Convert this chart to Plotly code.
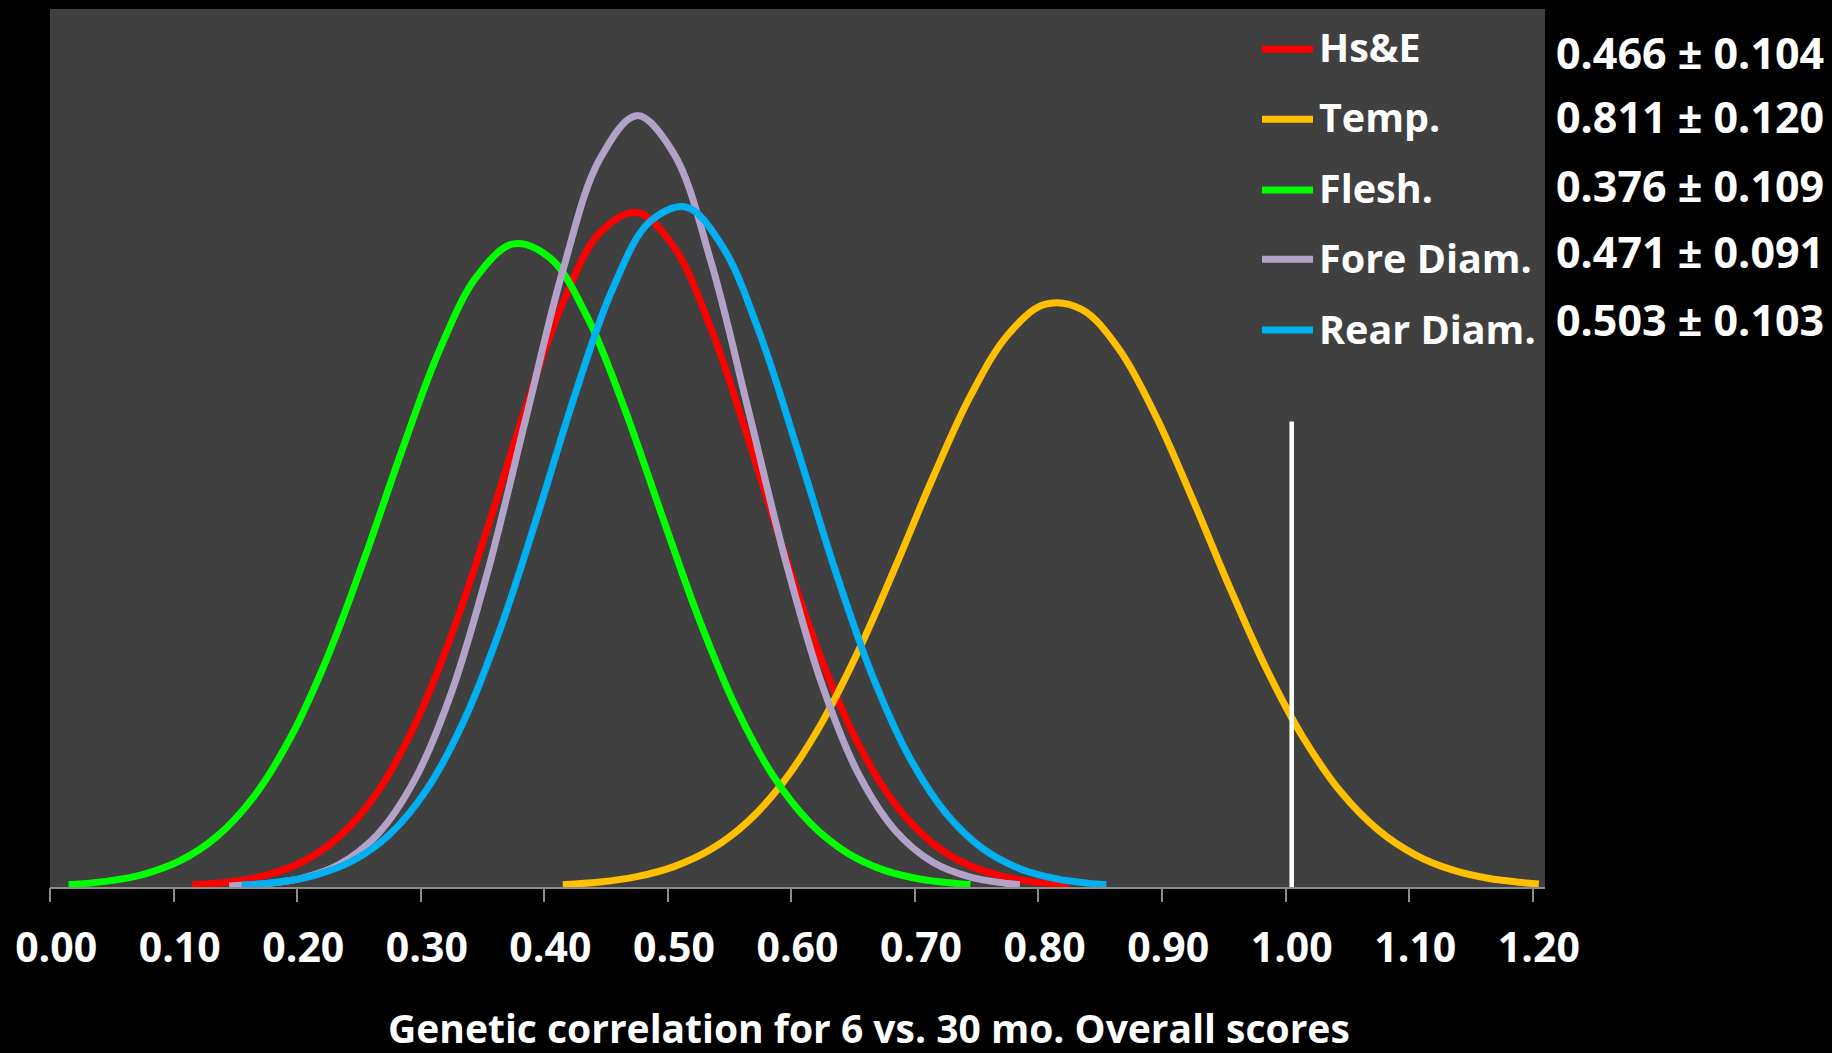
import plotly.graph_objects as go

# ---------------- data ----------------
series_names = ["Hs&E", "Temp.", "Flesh.", "Fore Diam.", "Rear Diam."]
series_means = ["0.466", "0.811", "0.376", "0.471", "0.503"]
series_ses = ["0.104", "0.120", "0.109", "0.091", "0.103"]

hse_x = [0.11, 0.14, 0.17, 0.20, 0.23, 0.26, 0.29, 0.32, 0.35, 0.38, 0.41, 0.44, 0.47,
         0.50, 0.53, 0.56, 0.59, 0.62, 0.65, 0.68, 0.71, 0.74, 0.77, 0.80, 0.82]
hse_y = [0.011, 0.028, 0.067, 0.146, 0.292, 0.539, 0.916, 1.432, 2.060, 2.725, 3.318, 3.718, 3.833,
         3.637, 3.174, 2.550, 1.884, 1.282, 0.802, 0.462, 0.245, 0.119, 0.054, 0.022, 0.012]

temp_x = [0.41, 0.44, 0.47, 0.50, 0.53, 0.56, 0.59, 0.62, 0.65, 0.68, 0.71, 0.74, 0.77, 0.80,
          0.83, 0.86, 0.89, 0.92, 0.95, 0.98, 1.01, 1.04, 1.07, 1.10, 1.13, 1.16, 1.19, 1.20]
temp_y = [0.013, 0.028, 0.059, 0.116, 0.214, 0.373, 0.610, 0.937, 1.352, 1.832, 2.333, 2.791, 3.136, 3.311,
          3.283, 3.059, 2.677, 2.201, 1.700, 1.233, 0.841, 0.538, 0.324, 0.183, 0.097, 0.048, 0.023, 0.017]

flesh_x = [0.01, 0.04, 0.07, 0.10, 0.13, 0.16, 0.19, 0.22, 0.25, 0.28, 0.31, 0.34, 0.37,
           0.40, 0.43, 0.46, 0.49, 0.52, 0.55, 0.58, 0.61, 0.64, 0.67, 0.70, 0.73, 0.74]
flesh_y = [0.013, 0.032, 0.071, 0.148, 0.287, 0.514, 0.854, 1.314, 1.877, 2.484, 3.047, 3.466, 3.655,
           3.573, 3.237, 2.720, 2.118, 1.529, 1.024, 0.635, 0.365, 0.195, 0.096, 0.044, 0.019, 0.014]

fore_x = [0.14, 0.17, 0.20, 0.23, 0.26, 0.29, 0.32, 0.35, 0.38, 0.41, 0.44, 0.47,
          0.50, 0.53, 0.56, 0.59, 0.62, 0.65, 0.68, 0.71, 0.74, 0.77, 0.78]
fore_y = [0.006, 0.019, 0.052, 0.132, 0.298, 0.607, 1.107, 1.811, 2.659, 3.502, 4.137, 4.384,
          4.167, 3.553, 2.717, 1.864, 1.147, 0.634, 0.314, 0.139, 0.056, 0.020, 0.014]

rear_x = [0.15, 0.18, 0.21, 0.24, 0.27, 0.30, 0.33, 0.36, 0.39, 0.42, 0.45, 0.48, 0.51,
          0.54, 0.57, 0.60, 0.63, 0.66, 0.69, 0.72, 0.75, 0.78, 0.81, 0.84, 0.85]
rear_y = [0.011, 0.028, 0.068, 0.149, 0.300, 0.555, 0.945, 1.478, 2.122, 2.800, 3.393, 3.778, 3.864,
          3.631, 3.135, 2.486, 1.811, 1.212, 0.745, 0.421, 0.218, 0.104, 0.046, 0.018, 0.013]

ref_line_x = [1.00, 1.00]
ref_line_y = [0.0, 2.645]

tick_values = [0.00, 0.10, 0.20, 0.30, 0.40, 0.50, 0.60, 0.70, 0.80, 0.90, 1.00, 1.10, 1.20]
tick_labels = ["0.00", "0.10", "0.20", "0.30", "0.40", "0.50", "0.60",
               "0.70", "0.80", "0.90", "1.00", "1.10", "1.20"]
x_title = "Genetic correlation for 6 vs. 30 mo. Overall scores"

# ---------------- styling ----------------
colors = ["#FF0000", "#FFC000", "#00FF00", "#B3A2C7", "#00B0F0"]
FONT = "Open Sans"
W, H = 1832, 1053
L, R, T, B = 50, 287, 9, 166
X_RANGE = [-0.005, 1.205]
Y_RANGE = [0, 4.99]
SLOT = 0.005  # half-slot offset of category tick marks

def px_x(px):
    return (px - L) / (W - L - R)

def px_y(py):
    return (H - B - py) / (H - B - T)

fig = go.Figure()
xs = [hse_x, temp_x, flesh_x, fore_x, rear_x]
ys = [hse_y, temp_y, flesh_y, fore_y, rear_y]
for name, x, y, c in zip(series_names, xs, ys, colors):
    fig.add_trace(go.Scatter(x=x, y=y, name=name, mode="lines",
                             line=dict(color=c, width=7, shape="spline", smoothing=1.0),
                             showlegend=False, hoverinfo="skip"))

fig.add_trace(go.Scatter(x=ref_line_x, y=ref_line_y, mode="lines",
                         line=dict(color="white", width=4.5), showlegend=False, hoverinfo="skip"))
# carrier for the tick-mark axis
fig.add_trace(go.Scatter(x=[], y=[], xaxis="x2", showlegend=False))

# custom legend (lines + labels) and value annotations
legend_line_rows = [49.3, 119.3, 190.0, 259.3, 330.0]
legend_text_rows = [46.7, 117.0, 188.0, 257.5, 329.0]
value_rows = [52.0, 116.5, 185.0, 251.5, 319.0]
for i, (name, c) in enumerate(zip(series_names, colors)):
    fig.add_shape(type="line", xref="paper", yref="paper",
                  x0=px_x(1262), x1=px_x(1313),
                  y0=px_y(legend_line_rows[i]), y1=px_y(legend_line_rows[i]),
                  line=dict(color=c, width=7))
    fig.add_annotation(xref="paper", yref="paper", x=px_x(1317), y=px_y(legend_text_rows[i]),
                       xanchor="left", yanchor="middle", showarrow=False,
                       text=name.replace("&", "&amp;"),
                       font=dict(family=FONT, size=39.5, color="white", weight=700))
    fig.add_annotation(xref="paper", yref="paper", x=px_x(1690), y=px_y(value_rows[i]),
                       xanchor="center", yanchor="middle", showarrow=False,
                       text=f"{series_means[i]} ± {series_ses[i]}",
                       font=dict(family=FONT, size=43, color="white", weight=700))

fig.add_annotation(xref="paper", yref="paper", x=px_x(869), y=px_y(1027),
                   xanchor="center", yanchor="middle", showarrow=False, text=x_title,
                   font=dict(family=FONT, size=39, color="white", weight=700))

fig.update_layout(
    width=W, height=H,
    margin=dict(l=L, r=R, t=T, b=B, pad=0),
    paper_bgcolor="black", plot_bgcolor="#404040",
    showlegend=False,
    xaxis=dict(range=X_RANGE, tickvals=tick_values, ticktext=tick_labels,
               ticks="", showgrid=False, zeroline=False,
               showline=True, linecolor="#8C8C8C", linewidth=2,
               ticklabelstandoff=24,
               tickfont=dict(family=FONT, size=41, color="white", weight=700)),
    xaxis2=dict(range=X_RANGE, overlaying="x", anchor="y", side="bottom",
                tickvals=[v - SLOT for v in tick_values], ticks="outside", ticklen=14,
                tickwidth=2, tickcolor="#8C8C8C", showticklabels=False,
                showgrid=False, zeroline=False, showline=False),
    yaxis=dict(range=Y_RANGE, visible=False, showgrid=False, zeroline=False),
)

fig.write_html("out.html", config={"displayModeBar": False},
               post_script="document.body.style.margin='0px';document.body.style.background='black';")
